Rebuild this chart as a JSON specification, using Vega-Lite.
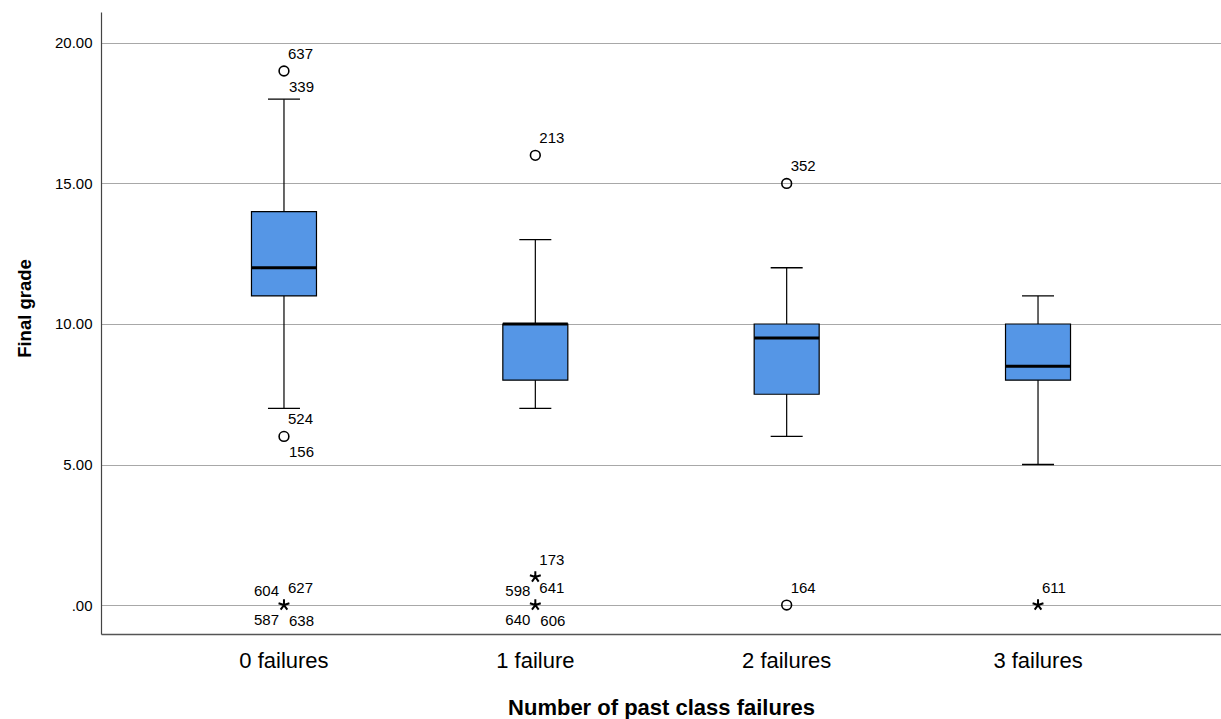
{
  "$schema": "https://vega.github.io/schema/vega-lite/v6.json",
  "width": 1120,
  "height": 622,
  "autosize": {"type": "none"},
  "padding": {"left": 101, "top": 12, "right": 0, "bottom": 85},
  "background": "white",
  "config": {
    "view": {"stroke": null},
    "font": "Liberation Sans",
    "axis": {"labelFont": "Liberation Sans", "titleFont": "Liberation Sans", "labelColor": "black", "titleColor": "black"}
  },
  "datasets": {
    "boxes": [
      {"failures": "0 failures", "lower": 7, "q1": 11, "median": 12, "q3": 14, "upper": 18},
      {"failures": "1 failure", "lower": 7, "q1": 8, "median": 10, "q3": 10, "upper": 13},
      {"failures": "2 failures", "lower": 6, "q1": 7.5, "median": 9.5, "q3": 10, "upper": 12},
      {"failures": "3 failures", "lower": 5, "q1": 8, "median": 8.5, "q3": 10, "upper": 11}
    ],
    "points": [
      {"failures": "0 failures", "grade": 19, "kind": "outlier"},
      {"failures": "0 failures", "grade": 6, "kind": "outlier"},
      {"failures": "0 failures", "grade": 0, "kind": "extreme"},
      {"failures": "1 failure", "grade": 16, "kind": "outlier"},
      {"failures": "1 failure", "grade": 1, "kind": "extreme"},
      {"failures": "1 failure", "grade": 0, "kind": "extreme"},
      {"failures": "2 failures", "grade": 15, "kind": "outlier"},
      {"failures": "2 failures", "grade": 0, "kind": "outlier"},
      {"failures": "3 failures", "grade": 0, "kind": "extreme"}
    ],
    "labels": [
      {"failures": "0 failures", "grade": 19, "label": "637", "pos": "ur"},
      {"failures": "0 failures", "grade": 19, "label": "339", "pos": "dr"},
      {"failures": "0 failures", "grade": 6, "label": "524", "pos": "ur"},
      {"failures": "0 failures", "grade": 6, "label": "156", "pos": "dr"},
      {"failures": "0 failures", "grade": 0, "label": "604", "pos": "ul"},
      {"failures": "0 failures", "grade": 0, "label": "627", "pos": "ur"},
      {"failures": "0 failures", "grade": 0, "label": "587", "pos": "dl"},
      {"failures": "0 failures", "grade": 0, "label": "638", "pos": "dr"},
      {"failures": "1 failure", "grade": 16, "label": "213", "pos": "ur"},
      {"failures": "1 failure", "grade": 1, "label": "173", "pos": "ur"},
      {"failures": "1 failure", "grade": 0, "label": "598", "pos": "ul"},
      {"failures": "1 failure", "grade": 0, "label": "641", "pos": "ur"},
      {"failures": "1 failure", "grade": 0, "label": "640", "pos": "dl"},
      {"failures": "1 failure", "grade": 0, "label": "606", "pos": "dr"},
      {"failures": "2 failures", "grade": 15, "label": "352", "pos": "ur"},
      {"failures": "2 failures", "grade": 0, "label": "164", "pos": "ur"},
      {"failures": "3 failures", "grade": 0, "label": "611", "pos": "ur"}
    ]
  },
  "encoding": {
    "x": {
      "field": "failures", "type": "nominal",
      "sort": ["0 failures", "1 failure", "2 failures", "3 failures"],
      "scale": {"type": "band", "paddingInner": 0, "paddingOuter": 0.228},
      "axis": {
        "title": "Number of past class failures",
        "labelAngle": 0, "labelFontSize": 22, "labelPadding": 16,
        "ticks": false, "domainColor": "#555555", "domainWidth": 1.5,
        "titleFontSize": 22, "titleFontWeight": "bold", "titlePadding": 26
      }
    }
  },
  "layer": [
    {
      "data": {"name": "boxes"},
      "mark": {"type": "rule", "color": "black", "strokeWidth": 1.2},
      "encoding": {
        "y": {
          "field": "lower", "type": "quantitative",
          "scale": {"domain": [-1.03, 21.1], "nice": false, "zero": false},
          "axis": {
            "title": "Final grade", "values": [0, 5, 10, 15, 20],
            "labelExpr": "datum.value == 0 ? '.00' : format(datum.value, '.2f')",
            "labelFontSize": 15, "labelPadding": 9, "ticks": false,
            "domainColor": "#444444", "domainWidth": 1.2,
            "grid": true, "gridColor": "#a8a8a8", "gridWidth": 1,
            "titleFontSize": 18.5, "titleFontWeight": "bold", "titlePadding": 20,
            "titleY": 296
          }
        },
        "y2": {"field": "upper"}
      }
    },
    {
      "data": {"name": "boxes"},
      "mark": {"type": "tick", "color": "black", "opacity": 1, "size": 32, "thickness": 1.3, "orient": "horizontal"},
      "encoding": {"y": {"field": "lower", "type": "quantitative"}}
    },
    {
      "data": {"name": "boxes"},
      "mark": {"type": "tick", "color": "black", "opacity": 1, "size": 32, "thickness": 1.3, "orient": "horizontal"},
      "encoding": {"y": {"field": "upper", "type": "quantitative"}}
    },
    {
      "data": {"name": "boxes"},
      "mark": {"type": "bar", "width": 65, "fill": "#5596e6", "stroke": "black", "strokeWidth": 1.2, "opacity": 1},
      "encoding": {
        "y": {"field": "q1", "type": "quantitative"},
        "y2": {"field": "q3"}
      }
    },
    {
      "data": {"name": "boxes"},
      "mark": {"type": "tick", "color": "black", "opacity": 1, "size": 65, "thickness": 3, "orient": "horizontal"},
      "encoding": {"y": {"field": "median", "type": "quantitative"}}
    },
    {
      "data": {"name": "points"},
      "transform": [{"filter": "datum.kind == 'outlier'"}],
      "mark": {"type": "point", "shape": "circle", "size": 95, "filled": false, "stroke": "black", "strokeWidth": 1.6, "opacity": 1},
      "encoding": {"y": {"field": "grade", "type": "quantitative"}}
    },
    {
      "data": {"name": "points"},
      "transform": [{"filter": "datum.kind == 'extreme'"}],
      "mark": {"type": "point", "shape": "M0,0L0,-1M0,0L0.951,-0.309M0,0L0.588,0.809M0,0L-0.588,0.809M0,0L-0.951,-0.309", "size": 130, "filled": false, "stroke": "black", "strokeWidth": 2, "opacity": 1},
      "encoding": {"y": {"field": "grade", "type": "quantitative"}}
    },
    {
      "data": {"name": "labels"},
      "transform": [{"filter": "datum.pos == 'ur'"}],
      "mark": {"type": "text", "align": "left", "baseline": "middle", "dx": 4, "dy": -17, "fontSize": 15, "color": "black"},
      "encoding": {"y": {"field": "grade", "type": "quantitative"}, "text": {"field": "label"}}
    },
    {
      "data": {"name": "labels"},
      "transform": [{"filter": "datum.pos == 'dr'"}],
      "mark": {"type": "text", "align": "left", "baseline": "middle", "dx": 5, "dy": 16, "fontSize": 15, "color": "black"},
      "encoding": {"y": {"field": "grade", "type": "quantitative"}, "text": {"field": "label"}}
    },
    {
      "data": {"name": "labels"},
      "transform": [{"filter": "datum.pos == 'ul'"}],
      "mark": {"type": "text", "align": "right", "baseline": "middle", "dx": -5, "dy": -14, "fontSize": 15, "color": "black"},
      "encoding": {"y": {"field": "grade", "type": "quantitative"}, "text": {"field": "label"}}
    },
    {
      "data": {"name": "labels"},
      "transform": [{"filter": "datum.pos == 'dl'"}],
      "mark": {"type": "text", "align": "right", "baseline": "middle", "dx": -5, "dy": 15, "fontSize": 15, "color": "black"},
      "encoding": {"y": {"field": "grade", "type": "quantitative"}, "text": {"field": "label"}}
    }
  ]
}
